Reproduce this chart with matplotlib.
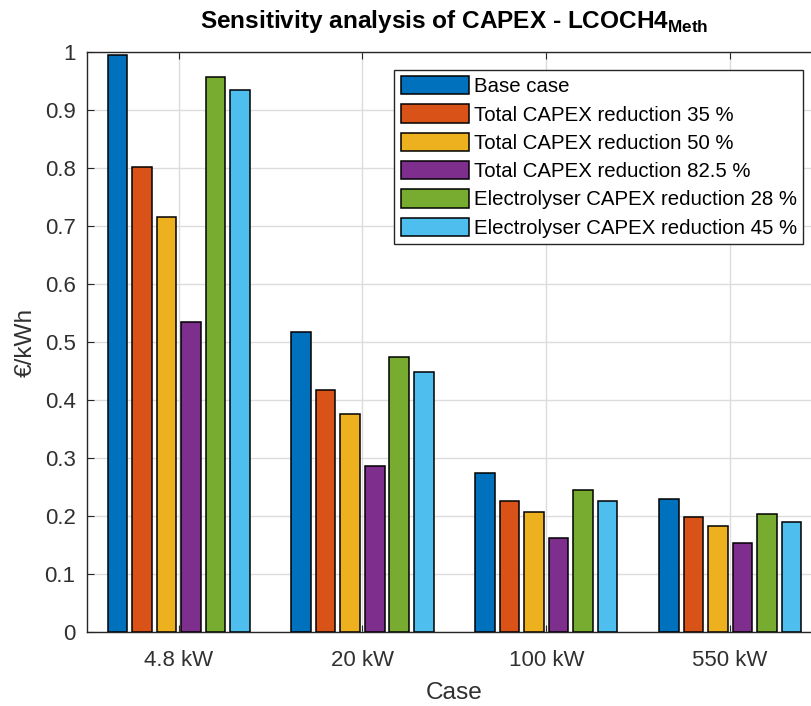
import numpy as np
import matplotlib
matplotlib.use('Agg')
import matplotlib.pyplot as plt

plt.rcParams['font.family'] = ['Liberation Sans', 'DejaVu Sans']
plt.rcParams['mathtext.fontset'] = 'custom'
plt.rcParams['mathtext.rm'] = 'Liberation Sans'
plt.rcParams['mathtext.bf'] = 'Liberation Sans:bold'

# data
cases = ['4.8 kW', '20 kW', '100 kW', '550 kW']
series_names = ['Base case',
                'Total CAPEX reduction 35 %',
                'Total CAPEX reduction 50 %',
                'Total CAPEX reduction 82.5 %',
                'Electrolyser CAPEX reduction 28 %',
                'Electrolyser CAPEX reduction 45 %']
base_case = [0.995, 0.518, 0.275, 0.230]
total_35 = [0.802, 0.418, 0.227, 0.198]
total_50 = [0.716, 0.377, 0.207, 0.184]
total_825 = [0.535, 0.286, 0.163, 0.154]
elec_28 = [0.957, 0.474, 0.245, 0.204]
elec_45 = [0.934, 0.448, 0.227, 0.190]
series = [base_case, total_35, total_50, total_825, elec_28, elec_45]

colors = ['#0072BD', '#D95319', '#EDB120', '#7E2F8E', '#77AC30', '#4DBEEE']
edge = '#262626'

fig = plt.figure(figsize=(8.12, 7.06), dpi=100)
ax = fig.add_axes([0.1068, 0.1044, 0.9055, 0.8219])

x = np.arange(1, len(cases) + 1)
n = len(series)
step = 0.8 / n
width = step * 0.8
for i, vals in enumerate(series):
    offs = (i - (n - 1) / 2) * step
    ax.bar(x + offs, vals, width, color=colors[i], edgecolor='black',
           linewidth=1.1, label=series_names[i], zorder=3)

ax.set_xlim(0.5, 4.5)
ax.set_ylim(0, 1)
ax.set_yticks(np.arange(0, 1.01, 0.1))
ax.set_yticklabels(['0', '0.1', '0.2', '0.3', '0.4', '0.5', '0.6', '0.7', '0.8', '0.9', '1'])
ax.set_xticks(x)
ax.set_xticklabels(cases)
ax.tick_params(direction='in', top=True, right=True, labelsize=16,
               colors=edge, labelcolor='#303030', length=5)
ax.tick_params(axis='y', pad=8)
ax.tick_params(axis='x', pad=13)
ax.grid(True, color='#dcdcdc', linewidth=1.0, zorder=0)
ax.set_axisbelow(True)
for s in ax.spines.values():
    s.set_color(edge)
    s.set_linewidth(1.0)

ax.set_xlabel('Case', fontsize=17.6, color='#303030', labelpad=8)
ax.set_ylabel('€/kWh', fontsize=17.6, color='#303030', labelpad=6)
ax.set_title(r'Sensitivity analysis of CAPEX - LCOCH4$_{\mathbf{Meth}}$',
             fontsize=17.6, fontweight='bold', pad=17)

leg = ax.legend(loc='upper left', bbox_to_anchor=(0.4185, 0.969), fontsize=14.7,
                frameon=True, fancybox=False, edgecolor=edge, framealpha=1,
                handlelength=3.35, handleheight=1.0, handletextpad=0.25,
                labelspacing=0.4, borderpad=0.3, borderaxespad=0)
leg.get_frame().set_linewidth(1.0)

fig.savefig('out.png', dpi=100)
